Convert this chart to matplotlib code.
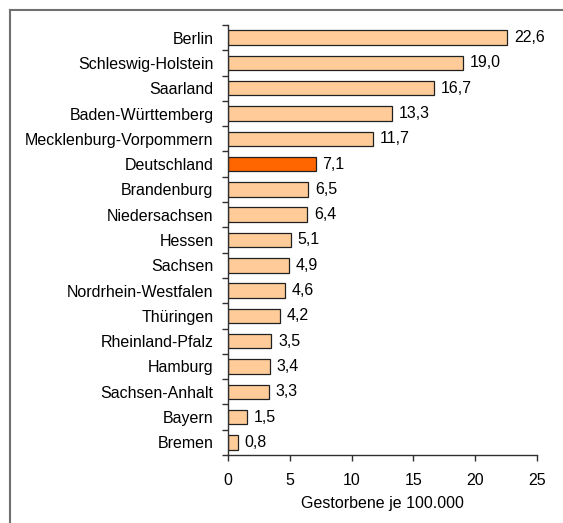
import matplotlib
matplotlib.use("Agg")
import matplotlib.pyplot as plt
from matplotlib.lines import Line2D
from matplotlib.ticker import FixedLocator
import numpy as np

plt.rcParams['font.family'] = ['Liberation Sans', 'DejaVu Sans']

regions = ["Berlin", "Schleswig-Holstein", "Saarland", "Baden-Württemberg",
           "Mecklenburg-Vorpommern", "Deutschland", "Brandenburg", "Niedersachsen",
           "Hessen", "Sachsen", "Nordrhein-Westfalen", "Thüringen",
           "Rheinland-Pfalz", "Hamburg", "Sachsen-Anhalt", "Bayern", "Bremen"]
values = [22.6, 19.0, 16.7, 13.3, 11.7, 7.1, 6.5, 6.4, 5.1, 4.9, 4.6, 4.2,
          3.5, 3.4, 3.3, 1.5, 0.8]
highlight = "Deutschland"
xticks = [0, 5, 10, 15, 20, 25]
xlabel = "Gestorbene je 100.000"

FS = 11.5

fig = plt.figure(figsize=(5.63, 5.23), dpi=100)
ax = fig.add_axes([228 / 563, 1 - 455 / 523, (537 - 228) / 563, (455 - 25) / 523])

n = len(regions)
y = np.arange(n)
colors = ["#FF6600" if r == highlight else "#FFCC99" for r in regions]
ax.barh(y, values, height=0.57, color=colors, edgecolor="#202020", linewidth=0.9)
ax.set_ylim(n - 0.5, -0.5)
ax.set_xlim(0, 25)

for yi, v in zip(y, values):
    ax.text(v + 0.55, yi, f"{v:.1f}".replace(".", ","), va="center", ha="left",
            fontsize=FS, color="black")

# category labels between boundary ticks
ax.set_yticks(y)
ax.set_yticklabels(regions, fontsize=FS)
ax.tick_params(axis="y", which="major", length=0, pad=10.5)
ax.yaxis.set_minor_locator(FixedLocator(np.arange(-0.5, n, 1.0)))
ax.tick_params(axis="y", which="minor", length=4, width=1, color="#303030")

ax.set_xticks(xticks)
ax.set_xticklabels([str(t) for t in xticks], fontsize=FS)
ax.tick_params(axis="x", length=4, width=1, color="#303030", pad=9)
ax.set_xlabel(xlabel, fontsize=FS, labelpad=6)

for s in ("top", "right"):
    ax.spines[s].set_visible(False)
for s in ("left", "bottom"):
    ax.spines[s].set_color("#303030")
    ax.spines[s].set_linewidth(1.0)

# outer frame (left and top edges)
W, H = 563, 523
fig.add_artist(Line2D([9.5 / W, 9.5 / W], [0, 1 - 10 / H], transform=fig.transFigure,
                      color="#707070", linewidth=1.5))
fig.add_artist(Line2D([9.5 / W, 1], [1 - 10 / H, 1 - 10 / H], transform=fig.transFigure,
                      color="#707070", linewidth=1.5))

fig.savefig("out.png", dpi=100)
